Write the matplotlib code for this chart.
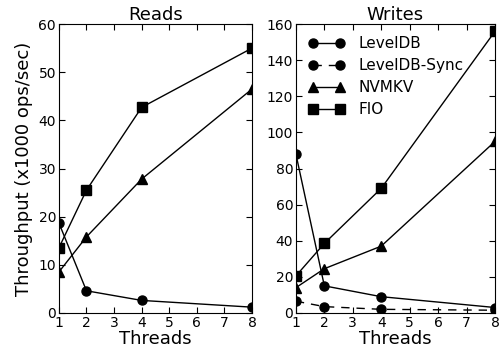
import matplotlib
matplotlib.use('Agg')
import matplotlib.pyplot as plt

threads = [1, 2, 4, 8]

reads_leveldb = [18.7, 4.6, 2.6, 1.2]
reads_nvmkv = [8.5, 15.8, 27.8, 46.5]
reads_fio = [13.5, 25.5, 42.7, 55.0]

writes_leveldb = [88, 15, 9, 3]
writes_leveldb_sync = [6.5, 3.5, 2, 1.5]
writes_nvmkv = [14, 24.5, 37, 95]
writes_fio = [20.5, 38.5, 69, 156]

plt.rcParams['font.family'] = 'DejaVu Sans'
plt.rcParams['xtick.direction'] = 'in'
plt.rcParams['ytick.direction'] = 'in'
plt.rcParams['xtick.top'] = True
plt.rcParams['ytick.right'] = True

fig = plt.figure(figsize=(4.99, 3.54), dpi=100)
ax1 = fig.add_axes([0.118, 0.116, 0.387, 0.816])
ax2 = fig.add_axes([0.593, 0.116, 0.399, 0.816])

ms = 6.5
ax1.plot(threads, reads_leveldb, 'k-o', lw=1, ms=ms)
ax1.plot(threads, reads_nvmkv, 'k-^', lw=1, ms=ms)
ax1.plot(threads, reads_fio, 'k-s', lw=1, ms=ms)
ax1.set_xlim(1, 8)
ax1.set_ylim(0, 60)
ax1.set_title('Reads', fontsize=13, pad=3)
ax1.set_xlabel('Threads', fontsize=13, labelpad=0)
ax1.set_ylabel('Throughput (x1000 ops/sec)', fontsize=13)

ax2.plot(threads, writes_leveldb, 'k-o', lw=1, ms=ms, label='LevelDB')
ax2.plot(threads, writes_leveldb_sync, 'k--o', lw=1, ms=ms, dashes=(6, 5), label='LevelDB-Sync')
ax2.plot(threads, writes_nvmkv, 'k-^', lw=1, ms=ms, label='NVMKV')
ax2.plot(threads, writes_fio, 'k-s', lw=1, ms=ms, label='FIO')
ax2.set_xlim(1, 8)
ax2.set_ylim(0, 160)
ax2.set_title('Writes', fontsize=13, pad=3)
ax2.set_xlabel('Threads', fontsize=13, labelpad=0)
ax2.legend(loc='upper left', frameon=False, fontsize=11, numpoints=2,
           handlelength=2.4, handletextpad=0.9, borderaxespad=0.4, labelspacing=0.45)

for ax in (ax1, ax2):
    ax.set_xticks(range(1, 9))
    ax.tick_params(labelsize=10, length=4, pad=2)

fig.savefig('out.png', dpi=100)
